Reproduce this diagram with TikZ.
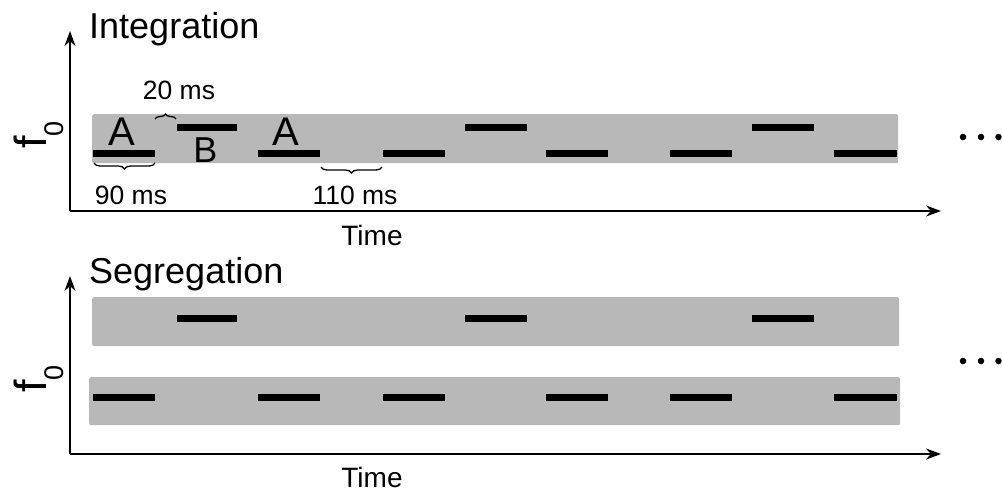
\documentclass[tikz,border=0pt]{standalone}
\usepackage{fontspec}
\setmainfont{Liberation Sans}
\usetikzlibrary{arrows.meta,decorations.pathreplacing}
\definecolor{bandgray}{HTML}{B8B8B8}
\begin{document}
\begin{tikzpicture}[x=1pt,y=-1pt,
  band/.style={fill=bandgray,draw=none,rounded corners=2pt,inner sep=0pt,anchor=north west},
  tone/.style={fill=black,draw=none,inner sep=0pt,minimum height=7pt,anchor=west},
  axis/.style={line width=1.6pt,-{Stealth[length=15pt,width=11pt]}},
  ms/.style={font=\fontsize{26.5}{26.5}\selectfont,inner sep=0pt},
  title/.style={font=\fontsize{36}{36}\selectfont,inner sep=0pt,anchor=base west},
  timelbl/.style={font=\fontsize{28}{28}\selectfont,inner sep=0pt},
  flabel/.style={rotate=90,anchor=base west,inner sep=0pt,font=\fontsize{45}{45}\selectfont},
  brc/.style={decorate,decoration={brace,amplitude=6pt},line width=1.3pt},
  dot/.style={circle,fill=black,inner sep=0pt,minimum size=6.5pt}
]
\useasboundingbox (0,0) rectangle (1002,491);

% ---------- Top panel: Integration ----------
\node[band,minimum width=806pt,minimum height=49pt] (bandI) at (92,114) {};
\coordinate (o1) at (70,211);
\coordinate (y1) at (70,31);
\coordinate (x1) at (941,211);
\draw[axis] (o1) -- (y1);
\draw[axis] (o1) -- (x1);

\node[tone,minimum width=62pt] (a1) at (93,153) {};
\node[tone,minimum width=60pt] (b1) at (177,127) {};
\node[tone,minimum width=62pt] (a2) at (258,153) {};
\node[tone,minimum width=62pt] (a3) at (383,153) {};
\node[tone,minimum width=62pt] (b2) at (465,127) {};
\node[tone,minimum width=62pt] (a4) at (546,153) {};
\node[tone,minimum width=62pt] (a5) at (670,153) {};
\node[tone,minimum width=62pt] (b3) at (752,127) {};
\node[tone,minimum width=63pt] (a6) at (834,153) {};

\node[inner sep=0pt,font=\fontsize{40}{40}\selectfont] (lA1) at (122,132) {A};
\node[inner sep=0pt,font=\fontsize{36}{36}\selectfont] (lB) at (205.5,150) {B};
\node[inner sep=0pt,font=\fontsize{40}{40}\selectfont] (lA2) at (286,132) {A};

\draw[brc,decoration={amplitude=5pt}] (155,119) -- (176,119);
\draw[brc] (155,163) -- (94,163);
\draw[brc] (382,167) -- (321,167);
\node[ms] (t20) at (179,90) {20 ms};
\node[ms] (t90) at (131,195) {90 ms};
\node[ms] (t110) at (355,195) {110 ms};

\node[title] (tI) at (89,38) {Integration};
\node[timelbl] (time1) at (372,235) {Time};
\node[flabel] (f1) at (46,149) {f\raisebox{-17pt}{\fontsize{27}{27}\selectfont 0}};

\node[dot] (d11) at (963,137) {};
\node[dot] (d12) at (981,137) {};
\node[dot] (d13) at (998.5,137) {};

% ---------- Bottom panel: Segregation ----------
\node[band,minimum width=807pt,minimum height=49pt] (bandH) at (92,297) {};
\node[band,minimum width=811pt,minimum height=48pt] (bandL) at (89,377) {};
\coordinate (o2) at (70,454);
\coordinate (y2) at (70,276);
\coordinate (x2) at (941,454);
\draw[axis] (o2) -- (y2);
\draw[axis] (o2) -- (x2);

\node[tone,minimum width=60pt] (sb1) at (177,318) {};
\node[tone,minimum width=62pt] (sb2) at (465,318) {};
\node[tone,minimum width=62pt] (sb3) at (752,318) {};
\node[tone,minimum width=62pt] (sa1) at (93,397) {};
\node[tone,minimum width=62pt] (sa2) at (258,397) {};
\node[tone,minimum width=62pt] (sa3) at (383,397) {};
\node[tone,minimum width=62pt] (sa4) at (546,397) {};
\node[tone,minimum width=62pt] (sa5) at (670,397) {};
\node[tone,minimum width=63pt] (sa6) at (834,397) {};

\node[title] (tS) at (89,283) {Segregation};
\node[timelbl] (time2) at (372,477) {Time};
\node[flabel] (f2) at (46,393) {f\raisebox{-17pt}{\fontsize{27}{27}\selectfont 0}};

\node[dot] (d21) at (963,361) {};
\node[dot] (d22) at (981,361) {};
\node[dot] (d23) at (998.5,361) {};
\end{tikzpicture}
\end{document}
